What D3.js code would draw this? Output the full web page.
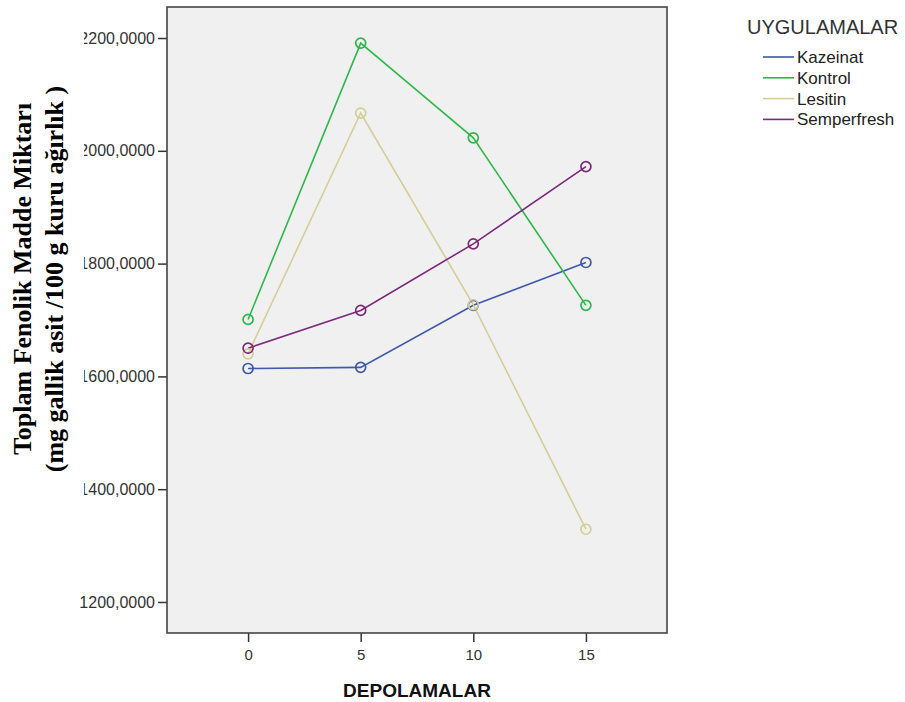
<!DOCTYPE html>
<html><head><meta charset="utf-8">
<script src="https://cdn.jsdelivr.net/npm/d3@7"></script>
<style>body{margin:0;background:#fff}svg{display:block}</style>
</head><body>
<svg id="c" width="905" height="702"></svg>
<script>
const days = [0, 5, 10, 15];
const kazeinat = [1614, 1616, 1726, 1802];
const kontrol = [1701, 2191, 2023, 1726];
const lesitin = [1640, 2067, 1727, 1329];
const semperfresh = [1650, 1717, 1835, 1972];
const seriesNames = ["Kazeinat", "Kontrol", "Lesitin", "Semperfresh"];
const seriesColors = ["#3E58AC", "#2EB848", "#D3CE97", "#7C287D"];
const yTicks = [1200, 1400, 1600, 1800, 2000, 2200];
const xTicks = [0, 5, 10, 15];

const series = [kazeinat, kontrol, lesitin, semperfresh];
const svg = d3.select("#c");
const L = 167, R = 667, T = 7, B = 633;
const x = d3.scaleLinear().domain([-3.6, 18.6]).range([L, R]);
const y = d3.scaleLinear().domain([1145, 2255]).range([B, T]);

svg.append("rect").attr("x", L).attr("y", T).attr("width", R - L).attr("height", B - T)
  .attr("fill", "#F0F0F0");

const fmt = v => v.toFixed(4).replace(".", ",");
const yAx = svg.append("g").attr("transform", `translate(${L},0)`)
  .call(d3.axisLeft(y).tickValues(yTicks).tickFormat(fmt).tickSize(9).tickPadding(3));
const xAx = svg.append("g").attr("transform", `translate(0,${B})`)
  .call(d3.axisBottom(x).tickValues(xTicks).tickSize(9).tickPadding(7));
[yAx, xAx].forEach(g => {
  g.select(".domain").remove();
  g.selectAll("line").attr("stroke", "#333").attr("stroke-width", 1.5);
  g.selectAll("text").attr("fill", "#333").attr("font-family", "Arial, 'Liberation Sans', sans-serif").attr("font-size", 16);
});
xAx.selectAll("text").attr("font-size", 15);

svg.append("rect").attr("x", L).attr("y", T).attr("width", R - L).attr("height", B - T)
  .attr("fill", "none").attr("stroke", "#444").attr("stroke-width", 1.6);

const line = d3.line().x((d, i) => x(days[i])).y(d => y(d));
series.forEach((s, k) => {
  svg.append("path").datum(s).attr("d", line).attr("fill", "none")
    .attr("stroke", seriesColors[k]).attr("stroke-width", 1.6);
});
series.forEach((s, k) => {
  svg.selectAll(null).data(s).enter().append("circle")
    .attr("cx", (d, i) => x(days[i])).attr("cy", d => y(d)).attr("r", 5)
    .attr("fill", "none").attr("stroke", seriesColors[k]).attr("stroke-width", 1.7);
});

// title background (covers the leading digits as in the original)
svg.append("rect").attr("x", 0).attr("y", 25).attr("width", 84).attr("height", 480).attr("fill", "#fff");

const yt = svg.append("text").attr("transform", "translate(0,279) rotate(-90)")
  .attr("text-anchor", "middle").attr("font-family", "'Liberation Serif', 'Times New Roman', serif")
  .attr("font-weight", "bold").attr("font-size", 26).attr("fill", "#000");
yt.append("tspan").attr("x", 0).attr("y", 31).text("Toplam Fenolik Madde Miktarı");
yt.append("tspan").attr("x", 0).attr("y", 63).text("(mg gallik asit /100 g kuru ağırlık )");

svg.append("text").attr("x", 417).attr("y", 697).attr("text-anchor", "middle")
  .attr("font-family", "Arial, 'Liberation Sans', sans-serif").attr("font-weight", "bold")
  .attr("font-size", 19).attr("fill", "#111").text("DEPOLAMALAR");

const lg = svg.append("g");
lg.append("text").attr("x", 747).attr("y", 34).attr("font-family", "Arial, 'Liberation Sans', sans-serif")
  .attr("font-size", 20).attr("fill", "#333").text("UYGULAMALAR");
seriesNames.forEach((n, k) => {
  const yy = 57 + k * 20.8;
  lg.append("line").attr("x1", 763).attr("x2", 794).attr("y1", yy).attr("y2", yy)
    .attr("stroke", seriesColors[k]).attr("stroke-width", 1.6);
  lg.append("text").attr("x", 797).attr("y", yy + 6).attr("font-family", "Arial, 'Liberation Sans', sans-serif")
    .attr("font-size", 17).attr("fill", "#222").text(n);
});
</script>
</body></html>
